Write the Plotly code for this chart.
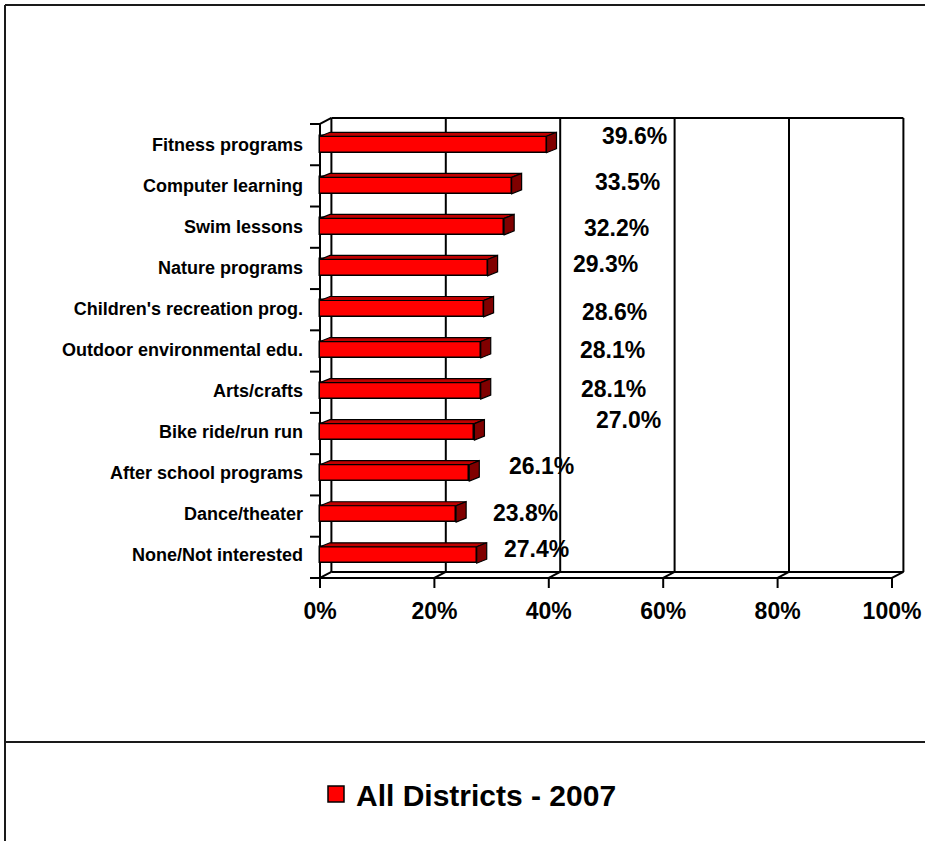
import plotly.graph_objects as go

# ---------------- data ----------------
categories = [
    "Fitness programs",
    "Computer learning",
    "Swim lessons",
    "Nature programs",
    "Children's recreation prog.",
    "Outdoor environmental edu.",
    "Arts/crafts",
    "Bike ride/run run",
    "After school programs",
    "Dance/theater",
    "None/Not interested",
]
values = [39.6, 33.5, 32.2, 29.3, 28.6, 28.1, 28.1, 27.0, 26.1, 23.8, 27.4]
series_name = "All Districts - 2007"
x_ticks = [0, 20, 40, 60, 80, 100]
x_tick_labels = ["0%", "20%", "40%", "60%", "80%", "100%"]

# ---------------- styles / geometry (not data) ----------------
FONT = "Liberation Sans, Arial, sans-serif"
RED, RED_TOP, RED_SIDE = "#FF0000", "#C00000", "#800000"
label_xshift = [53, 81, 78, 83, 96, 97, 98, 120, 38, 35, 25]
label_yshift = [8, 4, -1, 4, -3, 0, 2, 12, 7, 1, 6]

W, H = 925, 841
PX_PER_X = 5.72          # px per percent
PX_PER_Y = 41.05         # px per category
X0_PX, Y0_PX = 320, 144.5
dom_x_px = (304, 910)
dom_y_px = (100, 590)
x_range = [(dom_x_px[0] - X0_PX) / PX_PER_X, (dom_x_px[1] - X0_PX) / PX_PER_X]
y_range = [(dom_y_px[1] - Y0_PX) / PX_PER_Y, (dom_y_px[0] - Y0_PX) / PX_PER_Y]

DX = 11.4 / PX_PER_X      # wall depth
DY = 6.0 / PX_PER_Y
FT = -0.5                 # front top
FB = 10.56                # front bottom
BT, BB = FT - DY, FB - DY
BAR_W = 0.4
BDX = 10.0 / PX_PER_X
BDY = 4.0 / PX_PER_Y

n = len(categories)
ypos = list(range(n))

fig = go.Figure()

# front faces
fig.add_trace(go.Bar(
    x=values, y=ypos, orientation="h", width=BAR_W,
    marker=dict(color=RED, line=dict(color="black", width=1.5)),
    name=series_name, hoverinfo="skip", showlegend=False,
))

# top and side faces
tx, ty, sx, sy = [], [], [], []
for i, v in zip(ypos, values):
    t = i - BAR_W / 2
    b = i + BAR_W / 2
    tx += [0, v, v + BDX, BDX, 0, None]
    ty += [t, t, t - BDY, t - BDY, t, None]
    sx += [v, v + BDX, v + BDX, v, v, None]
    sy += [t, t - BDY, b - BDY, b, t, None]
fig.add_trace(go.Scatter(x=tx, y=ty, mode="lines", fill="toself", fillcolor=RED_TOP,
                         line=dict(color="black", width=1.2), showlegend=False,
                         hoverinfo="skip", cliponaxis=False))
fig.add_trace(go.Scatter(x=sx, y=sy, mode="lines", fill="toself", fillcolor=RED_SIDE,
                         line=dict(color="black", width=1.2), showlegend=False,
                         hoverinfo="skip", cliponaxis=False))

# legend entry for the series (larger square key)
fig.add_trace(go.Scatter(
    x=[None], y=[None], mode="markers", name=series_name,
    marker=dict(symbol="square", size=16, color=RED, line=dict(color="black", width=1.5)),
    showlegend=True, hoverinfo="skip",
))

# ---------------- frame (walls, floor, ticks) ----------------
shapes = []
def seg(x0, y0, x1, y1, width=2):
    shapes.append(dict(type="line", xref="x", yref="y", x0=x0, y0=y0, x1=x1, y1=y1,
                       line=dict(color="black", width=width), layer="below"))

# back wall
seg(DX, BT, 100 + DX, BT)
seg(DX, BT, DX, BB)
for k in x_ticks[1:]:
    seg(k + DX, BT, k + DX, BB)
# left side
seg(0, FT, 0, FB)
seg(0, FT, DX, BT)
# floor
seg(DX, BB, 100 + DX, BB)
seg(0, FB, 100, FB)
for k in x_ticks:
    seg(k, FB, k + DX, BB)
    seg(k, FB, k, FB + 10 / PX_PER_Y)
# left ticks at category boundaries
step = (FB - FT) / n
for k in range(n + 1):
    yy = FT + k * step
    seg(-10 / PX_PER_X, yy, 0, yy)

# outer chart border
def pline(x0, y0, x1, y1):
    shapes.append(dict(type="line", xref="paper", yref="paper",
                       x0=x0 / W, y0=1 - y0 / H, x1=x1 / W, y1=1 - y1 / H,
                       line=dict(color="#1a1a1a", width=2), layer="below"))
pline(5, 5, 925, 5)
pline(5, 5, 5, 841)
pline(5, 742, 925, 742)

# data labels
annotations = []
for i, v, xs, ys in zip(ypos, values, label_xshift, label_yshift):
    annotations.append(dict(
        x=v, y=i, xref="x", yref="y", text=f"{v:.1f}%", showarrow=False,
        xanchor="left", yanchor="middle", xshift=xs, yshift=ys,
        font=dict(family=FONT, size=23, color="black", weight="bold"),
    ))

fig.update_layout(
    width=W, height=H, autosize=False,
    margin=dict(l=0, r=0, t=0, b=0),
    paper_bgcolor="white", plot_bgcolor="rgba(0,0,0,0)",
    shapes=shapes, annotations=annotations,
    bargap=0,
    xaxis=dict(domain=[dom_x_px[0] / W, dom_x_px[1] / W], range=x_range,
               tickvals=x_ticks, ticktext=x_tick_labels, ticks="",
               showgrid=False, zeroline=False, showline=False, automargin=False,
               ticklabelstandoff=5,
               tickfont=dict(family=FONT, size=23, color="black", weight="bold")),
    yaxis=dict(domain=[1 - dom_y_px[1] / H, 1 - dom_y_px[0] / H], range=y_range,
               tickvals=ypos, ticktext=categories, ticks="",
               showgrid=False, zeroline=False, showline=False, automargin=False,
               tickfont=dict(family=FONT, size=18, color="black", weight="bold")),
    legend=dict(orientation="h", x=316 / W, xanchor="left", y=1 - 794 / H,
                yanchor="middle", bgcolor="rgba(0,0,0,0)", itemsizing="trace",
                font=dict(family=FONT, size=30, color="black", weight="bold")),
    hovermode=False,
)

fig.write_html(
    "out.html",
    config={"displayModeBar": False},
    post_script="document.body.style.margin='0px';document.body.style.overflow='hidden';",
)
